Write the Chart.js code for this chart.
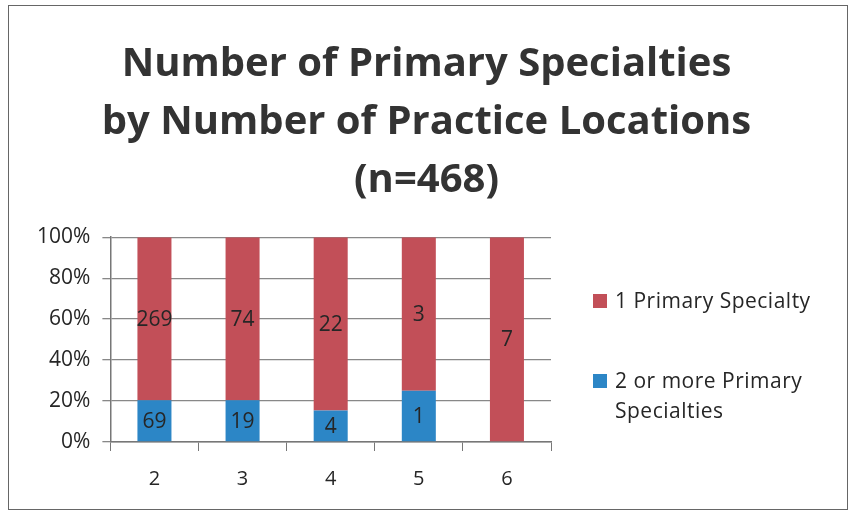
<!DOCTYPE html>
<html>
<head>
<meta charset="utf-8">
<script src="https://cdn.jsdelivr.net/npm/chart.js@4"></script>
<style>
  body { margin: 0; background: #fff; font-family: 'Open Sans', sans-serif; }
  #frame { position: absolute; left: 8px; top: 5px; width: 838px; height: 503px; border: 1.5px solid #666; }
  #wrap { position: absolute; left: 0; top: 0; width: 851px; height: 516px; }
  #legend { position: absolute; left: 593px; top: 285px; color: #262626; font-size: 21px; line-height: 30px; letter-spacing: 0.5px; }
  #legend .item { display: flex; align-items: flex-start; margin-bottom: 50px; }
  #legend .box { width: 14px; height: 14px; margin: 9px 8px 0 0; flex: none; }
</style>
</head>
<body>
<div id="frame"></div>
<div id="wrap"><canvas id="barChart" width="851" height="516"></canvas></div>
<div id="legend"></div>
<script>
// counts per number of practice locations
var locations = ['2', '3', '4', '5', '6'];
var onePrimary = [269, 74, 22, 3, 7];
var twoOrMore = [69, 19, 4, 1, 0];
var yTicks = [0, 20, 40, 60, 80, 100];

var redColor = '#C24F58';
var blueColor = '#2C86C6';

function pct(arr, other) {
    return arr.map(function (v, i) { return v / (v + other[i]) * 100; });
}

// puts the raw count in the middle of each segment
var countLabels = {
    id: 'countLabels',
    afterDatasetsDraw: function (chart) {
        var ctx = chart.ctx;
        ctx.save();
        ctx.font = '21px "Open Sans", sans-serif';
        ctx.fillStyle = '#262626';
        ctx.textAlign = 'center';
        ctx.textBaseline = 'middle';
        chart.data.datasets.forEach(function (ds, di) {
            chart.getDatasetMeta(di).data.forEach(function (bar, i) {
                var n = ds.counts[i];
                if (!n) return;
                var mid = (bar.y + bar.base) / 2;
                ctx.fillText(n, bar.x, mid + 1);
            });
        });
        ctx.restore();
    }
};

var ctx = document.getElementById('barChart').getContext('2d');
var myChart = new Chart(ctx, {
    type: 'bar',
    data: {
        labels: locations,
        datasets: [{
            label: '2 or more Primary Specialties',
            data: pct(twoOrMore, onePrimary),
            counts: twoOrMore,
            backgroundColor: blueColor,
            barPercentage: 0.386,
            categoryPercentage: 1
        }, {
            label: '1 Primary Specialty',
            data: pct(onePrimary, twoOrMore),
            counts: onePrimary,
            backgroundColor: redColor,
            barPercentage: 0.386,
            categoryPercentage: 1
        }]
    },
    options: {
        responsive: false,
        animation: false,
        layout: { padding: { left: 25, right: 23, top: 27, bottom: 9 } },
        plugins: {
            legend: { display: false },
            tooltip: { enabled: false },
            title: {
                display: true,
                text: ['Number of Primary Specialties', 'by Number of Practice Locations', '(n=468)'],
                color: '#333',
                font: { family: 'Open Sans', size: 40, weight: 'bold', lineHeight: 1.46 },
                padding: { top: 8, bottom: 27 }
            }
        },
        scales: {
            x: {
                stacked: true,
                grid: { drawOnChartArea: false, color: '#777', tickLength: 9, offset: true },
                border: { color: '#777', width: 1.5 },
                ticks: { color: '#262626', font: { family: 'Open Sans', size: 20 }, padding: 16 }
            },
            y: {
                stacked: true,
                min: 0,
                max: 100,
                afterBuildTicks: function (axis) {
                    axis.ticks = yTicks.map(function (v) { return { value: v }; });
                },
                grid: { color: '#888', tickLength: 8, lineWidth: 1.3 },
                border: { color: '#777', width: 1.5 },
                ticks: {
                    color: '#262626',
                    font: { family: 'Open Sans', size: 21 },
                    padding: 12,
                    callback: function (v) { return v + '%'; }
                }
            },
            // empty axis on the right that keeps room for the legend
            legendSpace: {
                type: 'linear',
                position: 'right',
                grid: { display: false },
                border: { display: false },
                ticks: { display: false },
                afterFit: function (axis) { axis.width = 277; }
            }
        }
    },
    plugins: [countLabels]
});

// legend drawn in html so the long label can wrap
var legendEl = document.getElementById('legend');
[[redColor, '1 Primary Specialty'], [blueColor, '2 or more Primary<br>Specialties']].forEach(function (it) {
    var d = document.createElement('div');
    d.className = 'item';
    d.innerHTML = '<span class="box" style="background:' + it[0] + '"></span><span>' + it[1] + '</span>';
    legendEl.appendChild(d);
});
</script>
</body>
</html>
